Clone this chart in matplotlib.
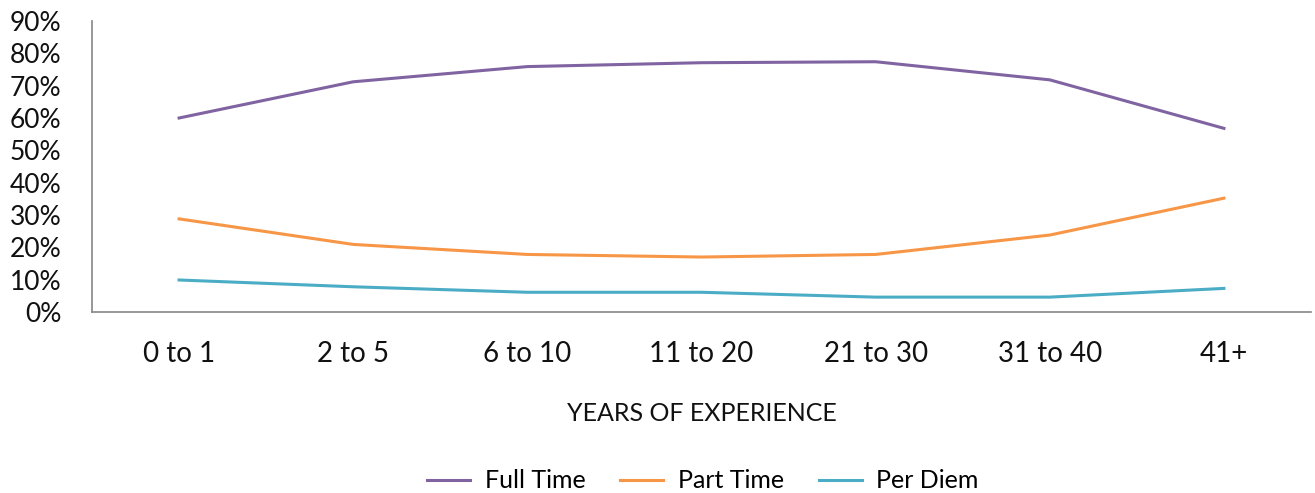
import matplotlib.pyplot as plt
from matplotlib.ticker import PercentFormatter

years = ["0 to 1", "2 to 5", "6 to 10", "11 to 20", "21 to 30", "31 to 40", "41+"]
full_time = [60.0, 71.2, 75.9, 77.1, 77.4, 71.8, 56.8]
part_time = [28.8, 20.9, 17.8, 17.0, 17.8, 23.8, 35.2]
per_diem = [9.9, 7.8, 6.1, 6.1, 4.6, 4.6, 7.3]

series = [("Full Time", full_time, "#8064A2"),
          ("Part Time", part_time, "#F79646"),
          ("Per Diem", per_diem, "#4BACC6")]

plt.rcParams["font.family"] = ["Lato", "DejaVu Sans"]
plt.rcParams["font.size"] = 20

fig = plt.figure(figsize=(13.15, 4.93), dpi=100)
ax = fig.add_axes([92 / 1315, 1 - 312 / 493, (1311 - 92) / 1315, (312 - 21) / 493])

x = range(len(years))
for name, vals, color in series:
    ax.plot(x, vals, color=color, lw=2.2, label=name, solid_joinstyle="round")

ax.set_xlim(-0.5, len(years) - 0.5)
ax.set_ylim(0, 90)
ax.set_yticks(range(0, 91, 10))
ax.yaxis.set_major_formatter(PercentFormatter(decimals=0))
ax.set_xticks(list(x))
ax.set_xticklabels(years)
ax.tick_params(axis="both", length=0, colors="#111111")
ax.tick_params(axis="x", pad=21, labelsize=20)
ax.tick_params(axis="y", pad=22, labelsize=19)

for side in ["top", "right"]:
    ax.spines[side].set_visible(False)
for side in ["left", "bottom"]:
    ax.spines[side].set_color("#868686")
    ax.spines[side].set_linewidth(1.2)

ax.set_xlabel("YEARS OF EXPERIENCE", fontsize=18, labelpad=25, color="#111111")

ax.legend(loc="center", bbox_to_anchor=(703 / 1315, 1 - 481 / 493),
          bbox_transform=fig.transFigure, ncol=3, frameon=False,
          fontsize=18, handlelength=1.7, columnspacing=1.4, handletextpad=0.6)

fig.savefig("out.png", dpi=100)
